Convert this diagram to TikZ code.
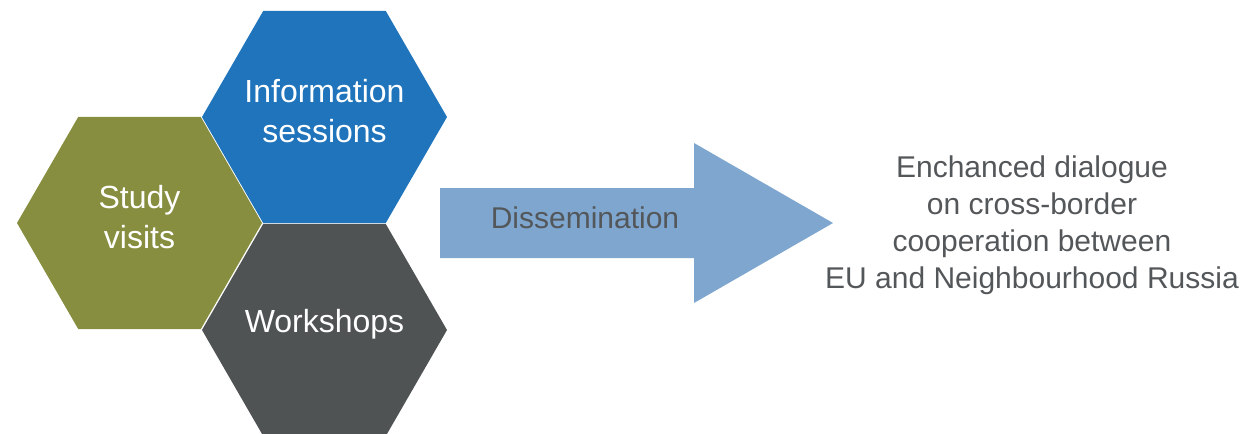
\documentclass[tikz,border=0pt]{standalone}
\usepackage{fontspec}
\setmainfont{Liberation Sans}
\usetikzlibrary{shapes.geometric}

\definecolor{infoblue}{HTML}{1F74BC}
\definecolor{studygreen}{HTML}{878E3F}
\definecolor{workgray}{HTML}{4F5354}
\definecolor{arrowblue}{HTML}{7EA6CF}
\definecolor{textgray}{HTML}{54575A}

\begin{document}
\begin{tikzpicture}[x=0.5pt, y=-0.5pt,
        hexa/.style={regular polygon, regular polygon sides=6,
            minimum size=122.5pt, inner sep=0pt, outer sep=0pt},
        hextext/.style={white, align=center, yshift=3pt,
            font=\fontsize{16}{20}\selectfont},
        plaintext/.style={textgray, align=center,
            font=\fontsize{15}{18.5}\selectfont}]
        \useasboundingbox (0,0) rectangle (1244,434);
        % hexagons
        \draw (324.5,117) node(info) [hexa, fill=infoblue] {};
        \draw (139.5,223) node(study) [hexa, fill=studygreen] {};
        \draw (324.5,330) node(work) [hexa, fill=workgray] {};
        \node (infotext) [hextext] at (info) {Information\\sessions};
        \node (studytext) [hextext] at (study) {Study\\visits};
        \node (worktext) [hextext] at (work) {Workshops};
        % block arrow
        \fill[arrowblue] (440,188) -- (694,188) -- (694,143) -- (833,223)
            -- (694,303) -- (694,258) -- (440,258) -- cycle;
        \node (diss) [plaintext] at (585,218) {Dissemination};
        \node (result) [plaintext] at (1032,225)
            {Enchanced dialogue\\on cross-border\\cooperation between\\EU and Neighbourhood Russia};
    \end{tikzpicture}
\end{document}
